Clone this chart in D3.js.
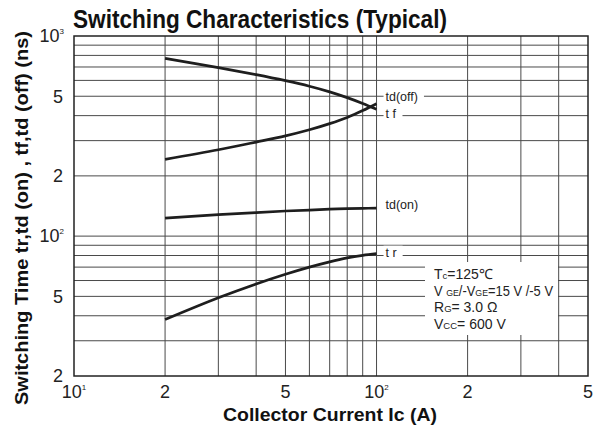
<!DOCTYPE html>
<html>
<head>
<meta charset="utf-8">
<script src="https://cdn.jsdelivr.net/npm/d3@7"></script>
<style>
  body { margin: 0; background: #fff; }
  svg { display: block; font-family: "Liberation Sans", Arial, sans-serif; }
</style>
</head>
<body>
<svg id="chart" width="604" height="431"></svg>
<script>
// collector current (A) where curves were read
const currents = [20, 30, 40, 50, 60, 70, 80, 90, 100];
// switching times (ns)
const tdOff = [773, 695, 641, 598, 561, 526, 492, 460, 430];
const tf    = [242, 270, 295, 317, 340, 365, 392, 424, 459];
const tdOn  = [123, 128, 131, 133.5, 135, 136.5, 137.3, 137.7, 138];
const tr    = [38.3, 49.2, 57.7, 64.5, 70.0, 74.4, 77.8, 80.1, 81.7];

const seriesNames = ["td(off)", "t f", "td(on)", "t r"];
const labelValues = [500, 408, 144, 83];   // y value where each label sits

const xGrid = [20, 30, 40, 50, 60, 70, 80, 90, 100, 200, 300, 400];
const yGrid = [30, 40, 50, 60, 70, 80, 90, 100, 200, 300, 400, 500, 600, 700, 800, 900];

const xTickVals = [10, 20, 50, 100, 200, 500];
const xTickText = ["10", "2", "5", "10", "2", "5"];
const xTickSup  = ["1", "", "", "2", "", ""];
const yTickVals = [1000, 500, 200, 100, 50, 20];
const yTickText = ["10", "5", "2", "10", "5", "2"];
const yTickSup  = ["3", "", "", "2", "", ""];

const noteLines = [
  [["T", 0], ["c", 1], ["=125℃", 0]],
  [["V ", 0], ["GE", 1], ["/-V", 0], ["GE", 1], ["=15 V /-5 V", 0]],
  [["R", 0], ["G", 1], ["= 3.0 Ω", 0]],
  [["V", 0], ["CC", 1], ["= 600 V", 0]]
];

var svg = d3.select("#chart"),
    pLeft = 74, pRight = 588, pTop = 36, pBottom = 376;

var x = d3.scaleLog().domain([10, 500]).range([pLeft, pRight]);
var y = d3.scaleLog().domain([20, 1000]).range([pBottom, pTop]);

// grid
svg.append("g").selectAll("line")
    .data(xGrid).enter().append("line")
    .attr("x1", d => x(d)).attr("x2", d => x(d))
    .attr("y1", pTop).attr("y2", pBottom)
    .attr("stroke", "#4a4a4a").attr("stroke-width", 1);

svg.append("g").selectAll("line")
    .data(yGrid).enter().append("line")
    .attr("x1", pLeft).attr("x2", pRight)
    .attr("y1", d => y(d)).attr("y2", d => y(d))
    .attr("stroke", "#4a4a4a").attr("stroke-width", 1);

svg.append("rect")
    .attr("x", pLeft).attr("y", pTop)
    .attr("width", pRight - pLeft).attr("height", pBottom - pTop)
    .attr("fill", "none").attr("stroke", "#222").attr("stroke-width", 1.5);

// curves
var line = d3.line()
    .curve(d3.curveCatmullRom.alpha(0.5))
    .x(d => x(d[0]))
    .y(d => y(d[1]));

[tdOff, tf, tdOn, tr].forEach(function(s) {
    svg.append("path")
        .datum(currents.map((c, i) => [c, s[i]]))
        .attr("d", line)
        .attr("fill", "none")
        .attr("stroke", "#1e1e1e")
        .attr("stroke-width", 2.7);
});

// curve labels with white backing
var labels = svg.append("g");
seriesNames.forEach(function(name, i) {
    var g = labels.append("g")
        .attr("transform", "translate(" + (x(100) + 9) + "," + y(labelValues[i]) + ")");
    var t = g.append("text")
        .attr("dy", "0.35em")
        .attr("font-size", 12.5)
        .attr("fill", "#222")
        .text(name);
    var bb = t.node().getBBox();
    g.insert("rect", "text")
        .attr("x", bb.x - 2).attr("y", bb.y)
        .attr("width", bb.width + 8).attr("height", bb.height)
        .attr("fill", "#fff");
});

// condition box
var note = svg.append("g");
note.append("rect")
    .attr("x", 425).attr("y", 262)
    .attr("width", 133).attr("height", 73)
    .attr("fill", "#fff");
noteLines.forEach(function(parts, i) {
    var t = note.append("text")
        .attr("x", 434).attr("y", 279 + i * 16.7)
        .attr("font-size", 14)
        .attr("fill", "#222");
    parts.forEach(function(p) {
        t.append("tspan")
            .attr("font-size", p[1] ? 9.5 : 14)
            .text(p[0]);
    });
    // keep the long line inside the box
    if (t.node().getComputedTextLength() > 119) {
        t.attr("textLength", 119).attr("lengthAdjust", "spacingAndGlyphs");
    }
});

// tick labels
var xt = svg.append("g").selectAll("text")
    .data(xTickVals).enter().append("text")
    .attr("x", d => x(d))
    .attr("y", 398)
    .attr("text-anchor", "middle")
    .attr("font-size", 18)
    .attr("fill", "#222");
xt.append("tspan").text((d, i) => xTickText[i]);
xt.append("tspan").attr("font-size", 8).attr("dy", -8).text((d, i) => xTickSup[i]);

var yt = svg.append("g").selectAll("text")
    .data(yTickVals).enter().append("text")
    .attr("x", (d, i) => yTickSup[i] ? 64 : 63)
    .attr("y", d => y(d))
    .attr("dy", "0.35em")
    .attr("text-anchor", "end")
    .attr("font-size", 18)
    .attr("fill", "#222");
yt.append("tspan").text((d, i) => yTickText[i]);
yt.append("tspan").attr("font-size", 8).attr("dy", -8).text((d, i) => yTickSup[i]);

// titles
svg.append("text")
    .attr("x", 73).attr("y", 28)
    .attr("font-size", 26)
    .attr("font-weight", "bold")
    .attr("fill", "#111")
    .attr("textLength", 374)
    .attr("lengthAdjust", "spacingAndGlyphs")
    .text("Switching Characteristics (Typical)");

svg.append("text")
    .attr("x", 330).attr("y", 421)
    .attr("text-anchor", "middle")
    .attr("font-size", 19)
    .attr("font-weight", "bold")
    .attr("fill", "#111")
    .attr("textLength", 214)
    .attr("lengthAdjust", "spacingAndGlyphs")
    .text("Collector Current Ic (A)");

svg.append("text")
    .attr("transform", "translate(28,218) rotate(-90)")
    .attr("text-anchor", "middle")
    .attr("font-size", 19)
    .attr("font-weight", "bold")
    .attr("fill", "#111")
    .attr("textLength", 374)
    .attr("lengthAdjust", "spacingAndGlyphs")
    .text("Switching Time tr,td (on) , tf,td (off) (ns)");
</script>
</body>
</html>
